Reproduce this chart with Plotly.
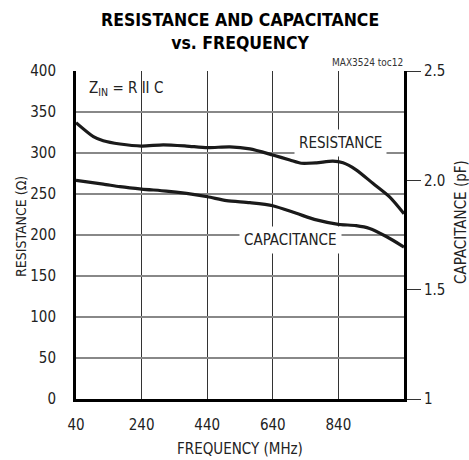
import plotly.graph_objects as go

# ---- data ----
freq_res = [40, 93, 123, 174, 240, 306, 377, 441, 509, 570, 640, 692, 727, 773, 823, 854, 894, 945, 996, 1040]
resistance = [337, 320, 315, 311, 308.5, 310, 308.5, 306.5, 307.5, 305, 297.5, 291.5, 287.5, 288, 290, 288, 279.5, 263, 246.5, 226]

freq_cap = [40, 123, 174, 240, 315, 377, 441, 499, 570, 640, 712, 773, 840, 894, 935, 986, 1040]
capacitance = [2.00, 1.983, 1.971, 1.96, 1.951, 1.94, 1.925, 1.907, 1.898, 1.884, 1.849, 1.819, 1.799, 1.793, 1.78, 1.743, 1.695]

x_ticks = [40, 240, 440, 640, 840]
y_ticks = [0, 50, 100, 150, 200, 250, 300, 350, 400]
y2_ticks = [1, 1.5, 2.0, 2.5]
y2_ticktext = ["1", "1.5", "2.0", "2.5"]

FONT = "DejaVu Sans Condensed, Liberation Sans Narrow, Arial Narrow, sans-serif"

fig = go.Figure()
fig.add_trace(go.Scatter(x=freq_res, y=resistance, mode="lines",
                         line=dict(color="#1a1a1a", width=3.2, shape="spline", smoothing=0.7),
                         yaxis="y", showlegend=False, hoverinfo="skip"))
fig.add_trace(go.Scatter(x=freq_cap, y=capacitance, mode="lines",
                         line=dict(color="#1a1a1a", width=3.2, shape="spline", smoothing=0.7),
                         yaxis="y2", showlegend=False, hoverinfo="skip"))

fig.update_layout(
    template="none",
    width=469, height=460,
    margin=dict(l=76, r=65, t=71, b=61, autoexpand=False),
    paper_bgcolor="white", plot_bgcolor="white",
    font=dict(family=FONT, size=15, color="#222"),
    xaxis=dict(range=[40, 1040], tickmode="array", tickvals=x_ticks, showgrid=True,
               gridcolor="#333", gridwidth=1, griddash="solid", automargin=False,
               showline=True, linecolor="black", linewidth=3, zeroline=False,
               ticks="outside", ticklen=10, tickcolor="rgba(0,0,0,0)", tickfont=dict(size=15)),
    yaxis=dict(range=[0, 400], tickmode="array", tickvals=y_ticks, showgrid=True,
               gridcolor="#888", gridwidth=1.5, griddash="solid", automargin=False,
               showline=True, linecolor="black", linewidth=3, zeroline=False,
               ticks="outside", ticklen=14, tickcolor="rgba(0,0,0,0)", tickfont=dict(size=15)),
    yaxis2=dict(range=[1, 2.5], overlaying="y", side="right", tickmode="array",
                tickvals=y2_ticks, ticktext=y2_ticktext, automargin=False,
                showgrid=False, showline=True, linecolor="black", linewidth=3, zeroline=False,
                ticks="outside", ticklen=14, tickwidth=1, tickcolor="#333", tickfont=dict(size=15)),
    annotations=[
        dict(text="<b>RESISTANCE AND CAPACITANCE<br>vs. FREQUENCY</b>", xref="paper", yref="paper",
             x=0.5, y=1.1204, xanchor="center", yanchor="middle", showarrow=False,
             font=dict(family=FONT, size=17.5, color="black")),
        dict(text="MAX3524 toc12", xref="paper", yref="paper", x=1.003, y=1.0244,
             xanchor="right", yanchor="middle", showarrow=False, font=dict(size=10, color="#333")),
        dict(text="Z<sub>IN</sub> = R II C", xref="paper", yref="paper", x=0.033, y=0.948,
             xanchor="left", yanchor="middle", showarrow=False, font=dict(size=15, color="#222")),
        dict(text="RESISTANCE", xref="paper", yref="paper", x=0.805, y=0.779,
             xanchor="center", yanchor="middle", showarrow=False, bgcolor="white", borderpad=4,
             font=dict(size=15, color="#222")),
        dict(text="CAPACITANCE", xref="paper", yref="paper", x=0.655, y=0.485,
             xanchor="center", yanchor="middle", showarrow=False, bgcolor="white", borderpad=4,
             font=dict(size=15, color="#222")),
        dict(text="RESISTANCE (Ω)", xref="paper", yref="paper", x=-0.168, y=0.527,
             xanchor="center", yanchor="middle", showarrow=False, textangle=-90,
             font=dict(size=14, color="#222")),
        dict(text="CAPACITANCE (pF)", xref="paper", yref="paper", x=1.174, y=0.54,
             xanchor="center", yanchor="middle", showarrow=False, textangle=-90,
             font=dict(size=15, color="#222")),
        dict(text="FREQUENCY (MHz)", xref="paper", yref="paper", x=0.5, y=-0.152,
             xanchor="center", yanchor="middle", showarrow=False,
             font=dict(size=15, color="#222")),
    ],
)

fig.write_html("out.html", config={"displayModeBar": False},
               post_script="document.body.style.margin='0';")
